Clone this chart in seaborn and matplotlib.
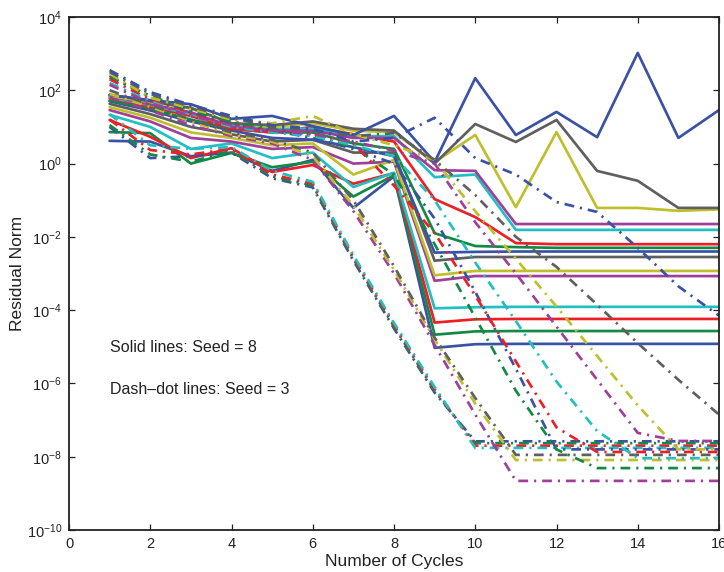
import numpy as np
import pandas as pd
import matplotlib
matplotlib.use("Agg")
import matplotlib.pyplot as plt
from matplotlib.ticker import FixedLocator, LogFormatterSciNotation, NullLocator
import seaborn as sns

# Cycle numbers shared by every run
cycles = list(range(1, 17))

# log10 of the residual norm per cycle, seed 8 (solid lines)
seed8_runs = [
    [0.62, 0.60, 0.20, 0.30, -0.20, 0.10, -1.21, -0.35, -5.03, -4.93, -4.92, -4.92, -4.92, -4.92, -4.92, -4.92],
    [0.86, 0.83, 0.00, 0.29, -0.10, 0.05, -0.90, -0.32, -4.67, -4.58, -4.57, -4.57, -4.57, -4.57, -4.57, -4.57],
    [1.19, 0.73, 0.15, 0.42, -0.23, -0.04, -0.55, -0.26, -4.34, -4.25, -4.24, -4.24, -4.24, -4.24, -4.24, -4.24],
    [1.33, 1.00, 0.40, 0.55, 0.15, 0.30, -0.64, -0.25, -3.95, -3.92, -3.91, -3.91, -3.91, -3.91, -3.91, -3.91],
    [1.46, 1.15, 0.70, 0.60, 0.40, 0.45, 0.00, 0.05, -3.20, -3.07, -3.07, -3.07, -3.07, -3.07, -3.07, -3.07],
    [1.54, 1.25, 0.85, 0.70, 0.50, 0.55, -0.30, 0.10, -3.05, -2.93, -2.93, -2.93, -2.93, -2.93, -2.93, -2.93],
    [1.63, 1.35, 1.00, 0.80, 0.60, 0.65, 0.30, 0.30, -2.65, -2.55, -2.55, -2.55, -2.55, -2.55, -2.55, -2.55],
    [1.70, 1.45, 1.15, 0.90, 0.70, 0.65, 0.45, 0.20, -2.43, -2.41, -2.40, -2.40, -2.40, -2.40, -2.40, -2.40],
    [1.72, 1.50, 1.20, 0.95, 0.85, 0.85, 0.55, 0.40, -1.90, -2.25, -2.28, -2.30, -2.30, -2.30, -2.30, -2.30],
    [1.78, 1.55, 1.30, 0.95, 0.85, 1.00, 0.80, 0.60, -0.97, -1.46, -2.17, -2.20, -2.20, -2.20, -2.20, -2.20],
    [1.80, 1.60, 1.35, 1.05, 0.95, 0.95, 0.75, 0.75, -0.37, -0.30, -1.81, -1.81, -1.81, -1.81, -1.81, -1.81],
    [1.84, 1.62, 1.40, 1.00, 0.90, 0.90, 0.70, 0.70, -0.18, -0.20, -1.65, -1.65, -1.65, -1.65, -1.65, -1.65],
    [1.84, 1.68, 1.50, 1.10, 1.00, 1.10, 0.90, 0.85, 0.04, 0.78, -1.19, 0.86, -1.21, -1.21, -1.29, -1.25],
    [1.88, 1.70, 1.52, 1.10, 1.05, 1.15, 0.95, 0.90, 0.00, 1.08, 0.59, 1.19, -0.20, -0.47, -1.21, -1.21],
    [1.87, 1.73, 1.62, 1.22, 1.30, 1.02, 0.78, 1.30, 0.04, 2.33, 0.78, 1.41, 0.72, 3.02, 0.70, 1.46],
]

# log10 of the residual norm per cycle, seed 3 (dash-dot lines)
seed3_runs = [
    [1.00, 0.15, 0.20, 0.30, -0.40, -0.65, -2.65, -4.50, -6.25, -7.58, -7.58, -7.58, -7.58, -7.58, -7.58, -7.58],
    [1.05, 0.25, 0.05, 0.35, -0.35, -0.60, -2.60, -4.45, -6.20, -7.63, -7.63, -7.63, -7.63, -7.63, -7.63, -7.63],
    [1.20, 0.37, 0.25, 0.40, -0.30, -0.55, -2.55, -4.40, -6.15, -7.70, -7.70, -7.70, -7.70, -7.70, -7.70, -7.70],
    [1.35, 0.50, 0.40, 0.45, -0.20, -0.50, -2.50, -4.35, -6.10, -7.76, -7.76, -7.76, -7.76, -7.76, -7.76, -7.76],
    [1.80, 1.45, 1.05, 0.75, 0.55, 0.10, -1.30, -3.00, -4.95, -6.85, -8.66, -8.66, -8.66, -8.66, -8.66, -8.66],
    [1.90, 1.55, 1.15, 0.80, 0.60, 0.20, -1.15, -2.90, -4.80, -6.55, -8.09, -8.09, -8.09, -8.09, -8.09, -8.09],
    [2.00, 1.60, 1.20, 0.85, 0.65, 0.30, -1.00, -2.80, -4.75, -6.40, -7.95, -7.95, -7.95, -7.95, -7.95, -7.95],
    [2.40, 1.80, 1.40, 1.10, 0.90, 0.70, 0.40, 0.00, -1.50, -3.50, -5.60, -7.80, -7.80, -7.80, -7.80, -7.80],
    [2.35, 1.85, 1.45, 1.15, 0.95, 0.75, 0.45, -0.30, -2.20, -4.20, -6.20, -7.80, -8.31, -8.31, -8.31, -8.31],
    [2.30, 1.75, 1.35, 1.05, 0.90, 0.80, 0.55, -0.60, -1.90, -3.60, -5.40, -7.20, -7.87, -7.87, -7.87, -7.87],
    [2.20, 1.70, 1.30, 1.00, 0.85, 0.75, 0.50, 0.20, -1.00, -2.70, -4.30, -5.95, -7.30, -8.04, -8.04, -8.04],
    [2.15, 1.65, 1.30, 1.05, 0.90, 0.80, 0.60, 0.35, 0.00, -1.60, -3.00, -4.45, -5.90, -7.35, -7.57, -7.57],
    [2.45, 1.80, 1.50, 1.20, 1.10, 1.30, 0.80, 0.50, 0.10, -1.30, -2.60, -3.90, -5.25, -6.60, -7.80, -7.80],
    [2.50, 1.90, 1.55, 1.25, 1.00, 0.90, 0.75, 0.83, 0.10, -0.86, -2.00, -2.82, -3.85, -4.90, -5.90, -6.85],
    [2.55, 1.95, 1.60, 1.30, 1.05, 0.95, 0.60, 0.70, 1.25, 0.15, -0.30, -1.05, -1.32, -2.30, -3.35, -4.15],
]

# Colour cycle for consecutive runs
run_colors = ["#3a52a4", "#138a43", "#ec1f26", "#22bfc2", "#9e3f9c", "#bfbf2e", "#5f5f5f"]

y_ticks = [1e-10, 1e-8, 1e-6, 1e-4, 1e-2, 1e0, 1e2, 1e4]
x_ticks = [0, 2, 4, 6, 8, 10, 12, 14, 16]

sns.set_theme(style="ticks")
plt.rcParams["font.family"] = ["Liberation Sans", "DejaVu Sans"]
plt.rcParams["mathtext.fontset"] = "custom"
plt.rcParams["mathtext.rm"] = "Liberation Sans"
plt.rcParams["mathtext.it"] = "Liberation Sans:italic"
plt.rcParams["mathtext.default"] = "regular"

rows = []
for seed, runs in ((8, seed8_runs), (3, seed3_runs)):
    for i, run in enumerate(runs):
        for c, v in zip(cycles, run):
            rows.append({"seed": seed, "run": i, "cycle": c, "residual": 10.0 ** v})
df = pd.DataFrame(rows)

fig = plt.figure(figsize=(7.24, 5.72), dpi=100)
ax = fig.add_axes([69 / 724, 1 - 530 / 572, 650 / 724, 513 / 572])

dashdot = (0, (3.6, 2.2, 0.8, 2.2))
for seed, style in ((8, "-"), (3, dashdot)):
    sub = df[df["seed"] == seed]
    for run_id, grp in sub.groupby("run"):
        sns.lineplot(data=grp, x="cycle", y="residual", ax=ax,
                     color=run_colors[run_id % len(run_colors)],
                     linewidth=1.95, linestyle=style,
                     estimator=None, sort=False, legend=False)

ax.set_yscale("log")
ax.set_xlim(0, 16)
ax.set_ylim(1e-10, 1e4)
ax.xaxis.set_major_locator(FixedLocator(x_ticks))
ax.yaxis.set_major_locator(FixedLocator(y_ticks))
ax.yaxis.set_major_formatter(LogFormatterSciNotation())
ax.yaxis.set_minor_locator(NullLocator())
ax.xaxis.set_minor_locator(NullLocator())

ax.tick_params(direction="in", top=True, right=True, length=4.5, width=0.9,
               labelsize=10.5, colors="#222222", pad=5)
for sp in ax.spines.values():
    sp.set_visible(True)
    sp.set_linewidth(1.3)
    sp.set_color("#222222")

ax.set_xlabel("Number of Cycles", fontsize=12.5, color="#222222", labelpad=2)
ax.set_ylabel("Residual Norm", fontsize=12.5, color="#222222", labelpad=1)

ax.text(1.0, 10 ** -5.02, "Solid lines: Seed = 8", fontsize=11.5,
        va="center", ha="left", color="#222222")
ax.text(1.0, 10 ** -6.16, "Dash\u2013dot lines: Seed = 3", fontsize=11.5,
        va="center", ha="left", color="#222222")

fig.savefig("out.png", dpi=100, facecolor="white")
